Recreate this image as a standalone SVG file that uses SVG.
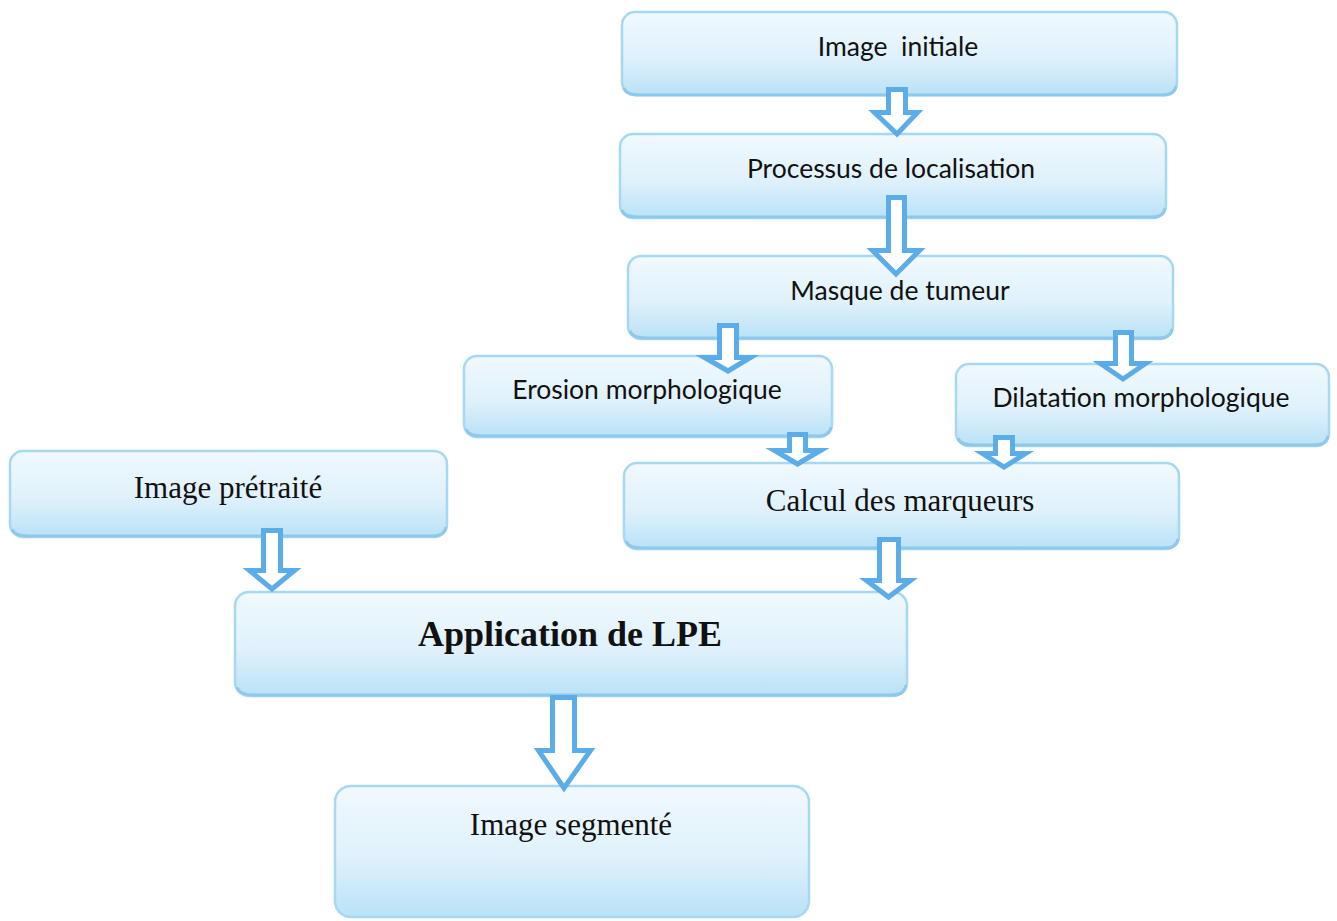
<svg xmlns="http://www.w3.org/2000/svg" width="1337" height="921" viewBox="0 0 1337 921">
  <defs>
    <linearGradient id="boxFill" x1="0" y1="0" x2="0" y2="1">
      <stop offset="0" stop-color="#f1f9fd"/>
      <stop offset="0.55" stop-color="#dff1fb"/>
      <stop offset="1" stop-color="#b9e2f7"/>
    </linearGradient>
    <style>
      .box { fill: url(#boxFill); stroke: #a6d8f2; stroke-width: 2.5; }
      .shade { fill: none; stroke: #8ec9ec; stroke-width: 3; }
      .sans { font-family: "Lato", "Open Sans", "Liberation Sans", sans-serif; font-size: 26.5px; fill: #111; text-anchor: middle; }
      .serif { font-family: "Liberation Serif", "Times New Roman", serif; fill: #111; text-anchor: middle; }
      .arrow { fill: #ffffff; stroke: #5badea; stroke-width: 5; stroke-linejoin: miter; }
    </style>
  </defs>
  <rect width="1337" height="921" fill="#ffffff"/>

  <g id="image-initiale">
    <rect class="box" x="622" y="12" width="555" height="83" rx="13"/>
    <path class="shade" d="M624,88 Q626,95 640,95 L1162,95 Q1175,95 1176,86"/>
    <text class="sans" x="898" y="56">Image&#160; initiale</text>
  </g>

  <g id="processus-localisation">
    <rect class="box" x="620" y="134" width="546" height="84" rx="13"/>
    <path class="shade" d="M622,210 Q624,217 638,217 L1152,217 Q1164,217 1165,208"/>
    <text class="sans" x="891" y="178">Processus de localisation</text>
  </g>

  <g id="masque-tumeur">
    <rect class="box" x="628" y="256" width="545" height="83" rx="13"/>
    <path class="shade" d="M630,331 Q632,338 646,338 L1158,338 Q1171,338 1172,329"/>
    <text class="sans" x="900" y="300">Masque de tumeur</text>
  </g>

  <g id="erosion-morphologique">
    <rect class="box" x="464" y="356" width="368" height="81" rx="13"/>
    <path class="shade" d="M466,429 Q468,436 482,436 L818,436 Q830,436 831,427"/>
    <text class="sans" x="647" y="399">Erosion morphologique</text>
  </g>

  <g id="dilatation-morphologique">
    <rect class="box" x="956" y="364" width="373" height="82" rx="13"/>
    <path class="shade" d="M958,438 Q960,445 974,445 L1314,445 Q1327,445 1328,436"/>
    <text class="sans" x="1141" y="407">Dilatation morphologique</text>
  </g>

  <g id="image-pretraite">
    <rect class="box" x="10" y="451" width="437" height="86" rx="13"/>
    <path class="shade" d="M12,529 Q14,536 28,536 L432,536 Q445,536 446,527"/>
    <text class="serif" x="228" y="498" font-size="31">Image prétraité</text>
  </g>

  <g id="calcul-marqueurs">
    <rect class="box" x="624" y="463" width="555" height="86" rx="13"/>
    <path class="shade" d="M626,541 Q628,548 642,548 L1164,548 Q1177,548 1178,539"/>
    <text class="serif" x="900" y="511" font-size="31">Calcul des marqueurs</text>
  </g>

  <g id="application-lpe">
    <rect class="box" x="235" y="592" width="672" height="104" rx="14"/>
    <path class="shade" d="M237,687 Q239,695 254,695 L891,695 Q905,695 906,685"/>
    <text class="serif" x="570" y="646" font-size="36" font-weight="bold">Application de LPE</text>
  </g>

  <g id="image-segmente">
    <rect class="box" x="335" y="786" width="474" height="131" rx="16"/>
    <text class="serif" x="571" y="835" font-size="31">Image segmenté</text>
  </g>

  <g id="connectors">
    <path class="arrow" d="M888.5,89.5 L905.5,89.5 L905.5,112.5 L917.5,112.5 L897,134 L874.5,112.5 L888.5,112.5 Z"/>
    <path class="arrow" d="M888.5,197.5 L904.5,197.5 L904.5,250.5 L919.5,250.5 L896,274 L872.5,250.5 L888.5,250.5 Z"/>
    <path class="arrow" d="M719.5,325.5 L736.5,325.5 L736.5,357.5 L750.5,357.5 L728,371 L704.5,357.5 L719.5,357.5 Z"/>
    <path class="arrow" d="M1115.5,332.5 L1131.5,332.5 L1131.5,363.5 L1145.5,363.5 L1123,379 L1100.5,363.5 L1115.5,363.5 Z"/>
    <path class="arrow" d="M789.5,434.5 L805.5,434.5 L805.5,450.5 L820.5,450.5 L797.5,464 L774.5,450.5 L789.5,450.5 Z"/>
    <path class="arrow" d="M995.5,437.5 L1012.5,437.5 L1012.5,453.5 L1025.5,453.5 L1004,467 L982.5,453.5 L995.5,453.5 Z"/>
    <path class="arrow" d="M263.5,530.5 L280.5,530.5 L280.5,570.5 L294.5,570.5 L272,589 L249.5,570.5 L263.5,570.5 Z"/>
    <path class="arrow" d="M879.5,539.5 L898.5,539.5 L898.5,580.5 L910.5,580.5 L888.5,597 L866.5,580.5 L879.5,580.5 Z"/>
    <path class="arrow" d="M552.5,697.5 L574.5,697.5 L574.5,750.5 L590.5,750.5 L564,788 L538.5,750.5 L552.5,750.5 Z"/>
  </g>
</svg>
